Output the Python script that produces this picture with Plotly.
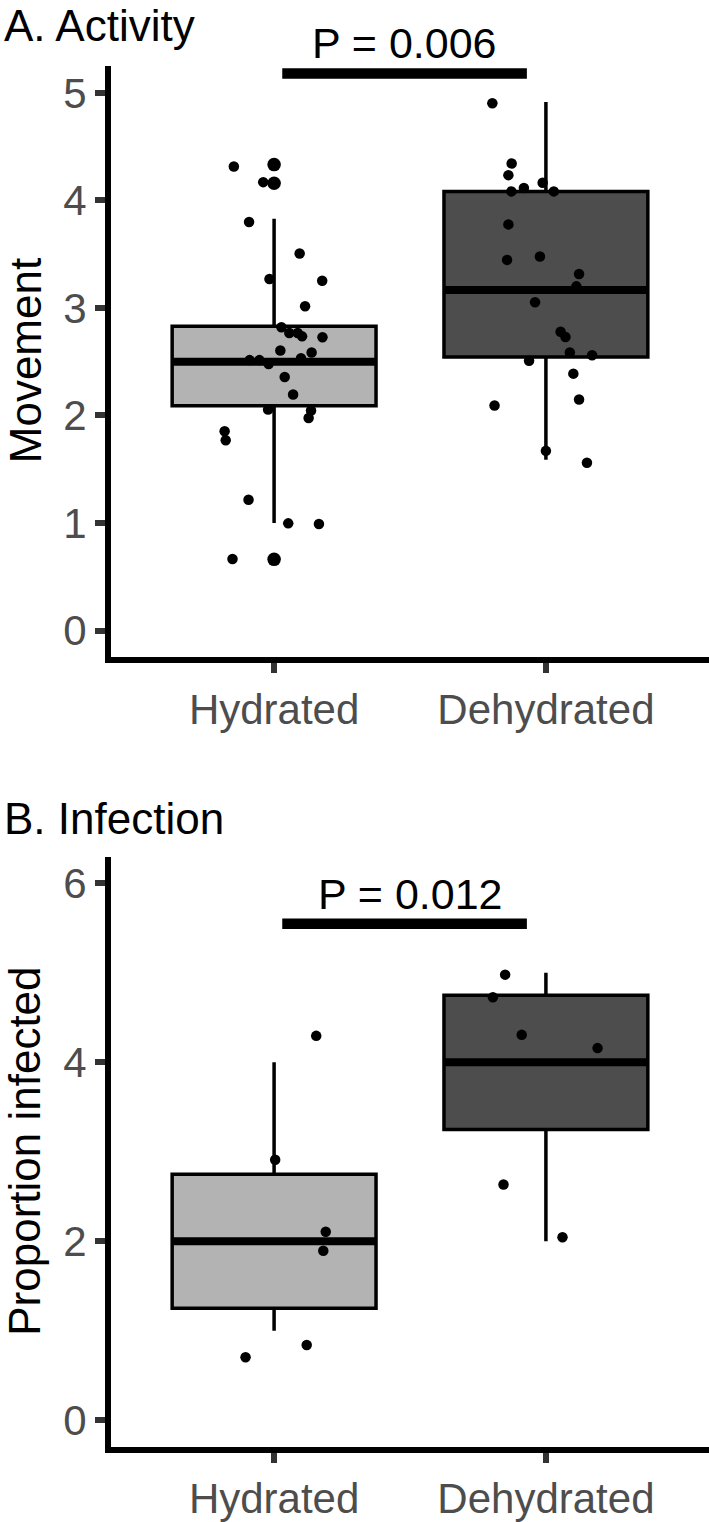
import plotly.graph_objects as go

# ---------------- data ----------------
groups = ["Hydrated", "Dehydrated"]
box_fill = ["#B3B3B3", "#4D4D4D"]

# Panel A: Activity (movement)
act_q1 = [2.09, 2.545]
act_median = [2.50, 3.167]
act_q3 = [2.83, 4.084]
act_lower = [1.00, 1.588]
act_upper = [3.83, 4.915]
act_outliers_hyd = [4.333, 4.16, 0.662]

act_hyd_y = [4.315, 4.17, 3.80, 3.506, 3.27, 3.253, 3.016, 2.82, 2.767, 2.767,
             2.736, 2.727, 2.604, 2.585, 2.533, 2.515, 2.515, 2.478, 2.358, 2.195,
             2.056, 2.047, 1.976, 1.853, 1.77, 1.216, 0.997, 0.991, 0.665]
act_hyd_jit = [-0.148, -0.04, -0.092, 0.094, -0.017, 0.177, 0.114, 0.027, 0.056, 0.087,
               0.103, 0.178, 0.023, 0.138, 0.099, -0.09, -0.054, -0.02, 0.039, 0.07,
               -0.022, 0.136, 0.127, -0.182, -0.178, -0.094, 0.052, 0.165, -0.153]

act_deh_y = [4.903, 4.343, 4.235, 4.115, 4.164, 4.084, 4.084, 3.777, 3.447, 3.478,
             3.315, 3.201, 3.053, 2.779, 2.730, 2.585, 2.56, 2.509, 2.389, 2.149,
             2.093, 1.671, 1.56]
act_deh_jit = [-0.197, -0.126, -0.138, -0.081, -0.012, -0.127, 0.029, -0.138, -0.143, -0.022,
               0.122, 0.112, -0.04, 0.054, 0.072, 0.088, 0.17, -0.062, 0.101, 0.122,
               -0.189, 0.0, 0.151]

# Panel B: Infection
inf_q1 = [1.25, 3.25]
inf_median = [2.0, 4.0]
inf_q3 = [2.75, 4.75]
inf_lower = [1.0, 2.0]
inf_upper = [4.0, 5.0]

inf_hyd_y = [4.296, 2.911, 2.106, 1.893, 0.704, 0.84]
inf_hyd_jit = [0.155, 0.004, 0.19, 0.181, -0.105, 0.12]
inf_deh_y = [4.98, 4.727, 4.307, 4.159, 2.635, 2.044]
inf_deh_jit = [-0.15, -0.195, -0.089, 0.19, -0.156, 0.061]

# significance annotations
p_labels = ["P = 0.006", "P = 0.012"]
p_label_x = [1.48, 1.50]
p_label_y = [5.46, 5.88]
sig_bar_x = [1.03, 1.93]
sig_bar_y = [5.18, 5.55]

panel_titles = ["A. Activity", "B. Infection"]
y_titles = ["Movement", "Proportion infected"]

y_ranges = [[-0.25, 5.25], [-0.3, 6.3]]

# ---------------- figure ----------------
W, H = 709, 1522
ML, MR, MT, MB = 111, 0, 66, 62
BOXW = 0.75
FONT = "Liberation Sans, Arial, Helvetica, sans-serif"

fig = go.Figure()


def add_panel(xa, ya, q1, med, q3, lo, hi, pts, outliers):
    for i in range(2):
        fig.add_trace(go.Box(
            x=[i + 1], q1=[q1[i]], median=[med[i]], q3=[q3[i]],
            lowerfence=[lo[i]], upperfence=[hi[i]], width=BOXW,
            fillcolor=box_fill[i], line=dict(color="black", width=3.5),
            whiskerwidth=0, boxpoints=False, xaxis=xa, yaxis=ya,
            showlegend=False, hoverinfo="skip"))
        fig.add_trace(go.Scatter(
            x=[i + 1 - BOXW / 2, i + 1 + BOXW / 2], y=[med[i], med[i]],
            mode="lines", line=dict(color="black", width=8),
            xaxis=xa, yaxis=ya, showlegend=False, hoverinfo="skip"))
    if outliers:
        fig.add_trace(go.Scatter(
            x=[1] * len(outliers), y=outliers, mode="markers",
            marker=dict(color="black", size=13.5), xaxis=xa, yaxis=ya,
            showlegend=False, hoverinfo="skip"))
    for gi, (ys, jit) in enumerate(pts):
        fig.add_trace(go.Scatter(
            x=[gi + 1 + j for j in jit], y=ys, mode="markers",
            marker=dict(color="black", size=10.5), xaxis=xa, yaxis=ya,
            showlegend=False, hoverinfo="skip"))


add_panel("x", "y", act_q1, act_median, act_q3, act_lower, act_upper,
          [(act_hyd_y, act_hyd_jit), (act_deh_y, act_deh_jit)], act_outliers_hyd)
add_panel("x2", "y2", inf_q1, inf_median, inf_q3, inf_lower, inf_upper,
          [(inf_hyd_y, inf_hyd_jit), (inf_deh_y, inf_deh_jit)], None)

# significance bars
for k, (xa, ya) in enumerate([("x", "y"), ("x2", "y2")]):
    fig.add_trace(go.Scatter(
        x=sig_bar_x, y=[sig_bar_y[k]] * 2, mode="lines",
        line=dict(color="black", width=10.5), xaxis=xa, yaxis=ya,
        showlegend=False, hoverinfo="skip", cliponaxis=False))

plot_h = H - MT - MB
plot_w = W - ML - MR
domA = [(1460 - 663) / plot_h, 1.0]
domB = [0.0, (1460 - 864) / plot_h]

axis_common = dict(
    showline=True, linewidth=6, linecolor="black", mirror=False,
    ticks="outside", ticklen=10, tickwidth=6, tickcolor="#333333",
    tickfont=dict(family=FONT, size=42, color="#4D4D4D"),
    showgrid=False, zeroline=False, fixedrange=True,
)

fig.update_layout(
    width=W, height=H,
    margin=dict(l=ML, r=MR, t=MT, b=MB, pad=0),
    paper_bgcolor="white", plot_bgcolor="white",
    showlegend=False,
    boxmode="overlay",
    xaxis=dict(domain=[0, 1], range=[0.4, 2.6], anchor="y",
               tickvals=[1, 2], ticktext=groups, **axis_common),
    yaxis=dict(domain=domA, range=y_ranges[0], anchor="x",
               tickvals=[0, 1, 2, 3, 4, 5], **axis_common),
    xaxis2=dict(domain=[0, 1], range=[0.4, 2.6], anchor="y2",
                tickvals=[1, 2], ticktext=groups, **axis_common),
    yaxis2=dict(domain=domB, range=y_ranges[1], anchor="x2",
                tickvals=[0, 2, 4, 6], **axis_common),
)


def px_to_paper_x(px):
    return (px - ML) / plot_w


def px_to_paper_y(py):
    return (H - MB - py) / plot_h


annotations = []
# panel titles
for t, cy in zip(panel_titles, [25, 826]):
    annotations.append(dict(
        text=t, xref="paper", yref="paper", x=px_to_paper_x(2), y=px_to_paper_y(cy),
        xanchor="left", yanchor="middle", showarrow=False,
        font=dict(family=FONT, size=44, color="black")))
# y-axis titles
for t, cy in zip(y_titles, [364, 1162]):
    annotations.append(dict(
        text=t, xref="paper", yref="paper", x=px_to_paper_x(25), y=px_to_paper_y(cy),
        xanchor="center", yanchor="middle", textangle=-90, showarrow=False,
        font=dict(family=FONT, size=44, color="black")))
# p-value labels (placed in axis-domain units computed from the data value)
for k, (xr, yr) in enumerate([("x", "y domain"), ("x2", "y2 domain")]):
    r0, r1 = y_ranges[k]
    annotations.append(dict(
        text=p_labels[k], xref=xr, yref=yr, x=p_label_x[k],
        y=(p_label_y[k] - r0) / (r1 - r0),
        xanchor="center", yanchor="middle", showarrow=False,
        font=dict(family=FONT, size=43, color="black")))

fig.update_layout(annotations=annotations)

fig.write_html("out.html")
